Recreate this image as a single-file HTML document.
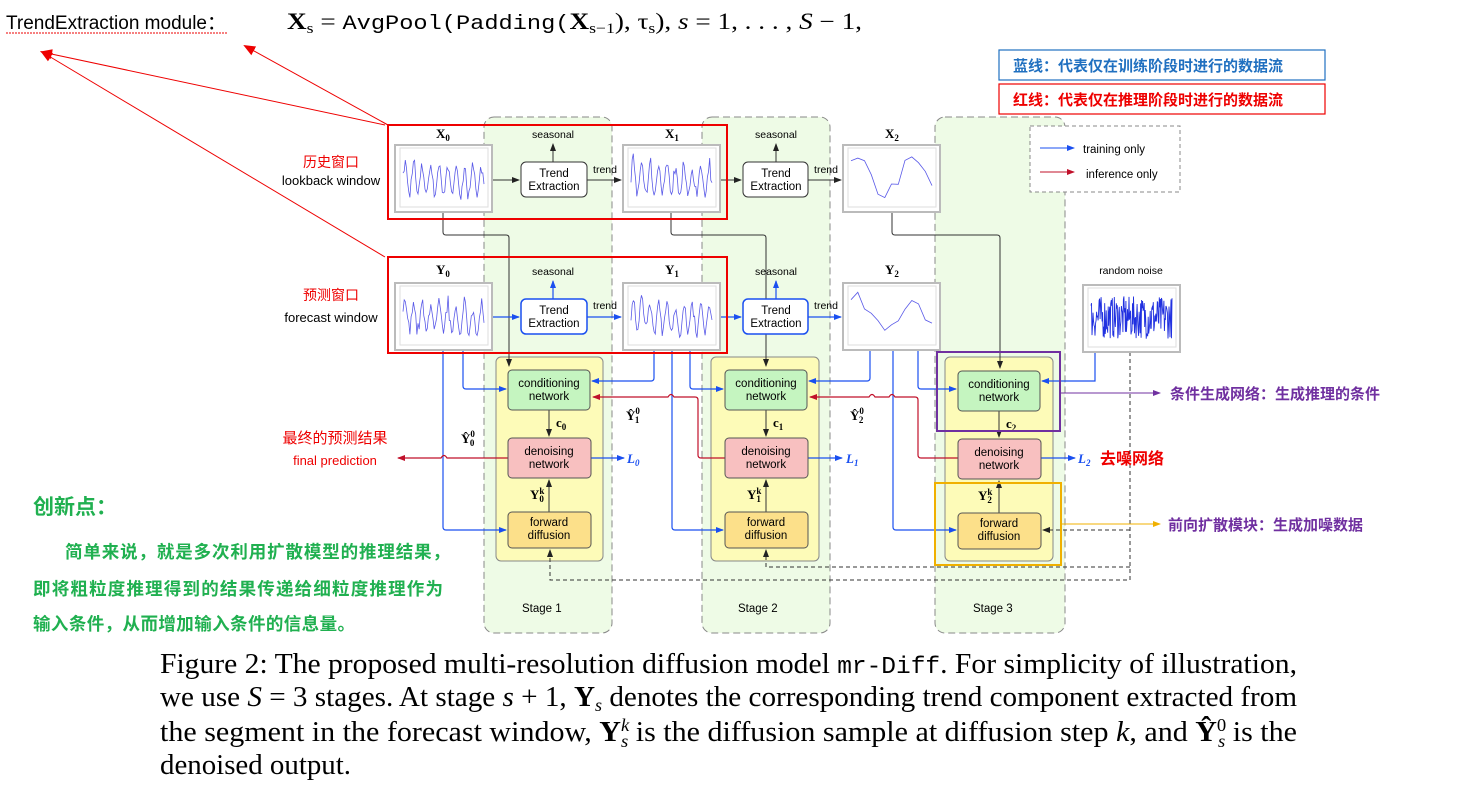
<!DOCTYPE html>
<html><head><meta charset="utf-8"><style>
html,body{margin:0;padding:0;background:#fff;}
svg{display:block;}
.cap{font-family:"Liberation Serif",serif;font-size:29px;fill:#000;}
.s{font-family:"Liberation Sans","DejaVu Sans",sans-serif;font-size:11.5px;fill:#000;}
.m{font-family:"Liberation Serif",serif;font-weight:bold;font-size:13px;}
.cn{font-family:"Liberation Sans","Noto Sans CJK SC",sans-serif;}
</style></head><body>
<svg id="sv" width="1469" height="809" viewBox="0 0 1469 809" xmlns="http://www.w3.org/2000/svg">
<defs>
<marker id="ak" markerWidth="8" markerHeight="8" refX="7" refY="4" orient="auto" markerUnits="userSpaceOnUse"><path d="M0,1 L8,4 L0,7z" fill="#222"/></marker>
<marker id="ab" markerWidth="8" markerHeight="8" refX="7" refY="4" orient="auto" markerUnits="userSpaceOnUse"><path d="M0,1 L8,4 L0,7z" fill="#1a4ff0"/></marker>
<marker id="ar" markerWidth="8" markerHeight="8" refX="7" refY="4" orient="auto" markerUnits="userSpaceOnUse"><path d="M0,1 L8,4 L0,7z" fill="#c0102a"/></marker>
<marker id="ap" markerWidth="8" markerHeight="8" refX="7" refY="4" orient="auto" markerUnits="userSpaceOnUse"><path d="M0,1 L8,4 L0,7z" fill="#7030a0"/></marker>
<marker id="ao" markerWidth="8" markerHeight="8" refX="7" refY="4" orient="auto" markerUnits="userSpaceOnUse"><path d="M0,1 L8,4 L0,7z" fill="#f0b000"/></marker>
<marker id="aR" markerWidth="12" markerHeight="12" refX="10" refY="6" orient="auto" markerUnits="userSpaceOnUse"><path d="M0,1 L12,6 L0,11z" fill="#e00"/></marker>
</defs>

<text x="6" y="29" font-family="Liberation Sans,Noto Sans CJK SC,sans-serif" font-size="19" fill="#000">TrendExtraction module：</text>
<path d="M6,33 L228,33" stroke="#e00" stroke-width="1" stroke-dasharray="2,1"/>
<text x="287" y="29" font-family="Liberation Serif,serif" font-size="23" textLength="575" lengthAdjust="spacingAndGlyphs"><tspan font-weight="bold">X</tspan><tspan font-size="15" dy="4">s</tspan><tspan dy="-4"> = </tspan><tspan font-family="Liberation Mono,monospace" font-size="20">AvgPool(Padding(</tspan><tspan font-weight="bold">X</tspan><tspan font-size="15" dy="4">s−1</tspan><tspan dy="-4">), τ</tspan><tspan font-size="15" dy="4">s</tspan><tspan dy="-4">),  </tspan><tspan font-style="italic">s</tspan><tspan> = 1, . . . , </tspan><tspan font-style="italic">S</tspan><tspan> − 1,</tspan></text>
<line x1="385" y1="125" x2="42" y2="52" stroke="#e00" stroke-width="1" marker-end="url(#aR)"/>
<line x1="385" y1="257" x2="42" y2="52" stroke="#e00" stroke-width="1" marker-end="url(#aR)"/>
<line x1="388" y1="125" x2="245" y2="46" stroke="#e00" stroke-width="1" marker-end="url(#aR)"/>

<rect x="999" y="50" width="326" height="30" fill="#fff" stroke="#2070c0" stroke-width="1.2"/>
<text x="1013" y="71" class="cn" font-size="15" font-weight="bold" fill="#2070c0">蓝线：代表仅在训练阶段时进行的数据流</text>
<rect x="999" y="84" width="326" height="30" fill="#fff" stroke="#e00" stroke-width="1.2"/>
<text x="1013" y="105" class="cn" font-size="15" font-weight="bold" fill="#e00">红线：代表仅在推理阶段时进行的数据流</text>

<g fill="#eefbe6" stroke="#888" stroke-dasharray="7,4" stroke-width="1">
<rect x="484" y="117" width="128" height="516" rx="10"/>
<rect x="702" y="117" width="128" height="516" rx="10"/>
<rect x="935" y="117" width="130" height="516" rx="10"/>
</g>
<text x="522" y="612" class="s" font-size="14">Stage 1</text>
<text x="738" y="612" class="s" font-size="14">Stage 2</text>
<text x="973" y="612" class="s" font-size="14">Stage 3</text>

<rect x="1030" y="126" width="150" height="66" fill="#fff" stroke="#888" stroke-dasharray="4,3"/>
<line x1="1040" y1="148" x2="1074" y2="148" stroke="#1a4ff0" marker-end="url(#ab)"/>
<text x="1083" y="153" class="s" font-size="13">training only</text>
<line x1="1040" y1="172" x2="1074" y2="172" stroke="#c0102a" marker-end="url(#ar)"/>
<text x="1086" y="178" class="s" font-size="13">inference only</text>

<g fill="#fdfbb8" stroke="#888" stroke-width="1">
<rect x="496" y="357" width="107" height="204" rx="5"/>
<rect x="711" y="357" width="108" height="204" rx="5"/>
<rect x="945" y="357" width="108" height="204" rx="5"/>
</g>

<g fill="none" stroke="#333" stroke-width="1">
<path d="M443,212 V232 Q443,235 446,235 H506 Q509,235 509,238 V366" marker-end="url(#ak)"/>
<path d="M671,212 V232 Q671,235 674,235 H763 Q766,235 766,238 V366" marker-end="url(#ak)"/>
<path d="M892,212 V232 Q892,235 895,235 H997 Q1000,235 1000,238 V368" marker-end="url(#ak)"/>
<line x1="492" y1="180" x2="519" y2="180" marker-end="url(#ak)"/>
<line x1="587" y1="180" x2="621" y2="180" marker-end="url(#ak)"/>
<line x1="720" y1="180" x2="741" y2="180" marker-end="url(#ak)"/>
<line x1="808" y1="180" x2="841" y2="180" marker-end="url(#ak)"/>
<line x1="553" y1="162" x2="553" y2="144" marker-end="url(#ak)"/>
<line x1="776" y1="162" x2="776" y2="144" marker-end="url(#ak)"/>
<line x1="549" y1="410" x2="549" y2="436" marker-end="url(#ak)"/>
<line x1="766" y1="410" x2="766" y2="436" marker-end="url(#ak)"/>
<line x1="999" y1="410" x2="999" y2="437" marker-end="url(#ak)"/>
<line x1="549" y1="512" x2="549" y2="480" marker-end="url(#ak)"/>
<line x1="766" y1="512" x2="766" y2="480" marker-end="url(#ak)"/>
<line x1="999" y1="513" x2="999" y2="481" marker-end="url(#ak)"/>
<path d="M1130,352 V580 H550 V550" stroke-dasharray="4,3" marker-end="url(#ak)"/>
<path d="M1130,567 H766 V550" stroke-dasharray="4,3" marker-end="url(#ak)"/>
<path d="M1130,530 H1043" stroke-dasharray="4,3" marker-end="url(#ak)"/>
</g>

<g fill="none" stroke="#1a4ff0" stroke-width="1.2">
<line x1="492" y1="317" x2="519" y2="317" marker-end="url(#ab)"/>
<line x1="587" y1="317" x2="621" y2="317" marker-end="url(#ab)"/>
<line x1="720" y1="317" x2="741" y2="317" marker-end="url(#ab)"/>
<line x1="808" y1="317" x2="841" y2="317" marker-end="url(#ab)"/>
<line x1="553" y1="299" x2="553" y2="281" marker-end="url(#ab)"/>
<line x1="776" y1="299" x2="776" y2="281" marker-end="url(#ab)"/>
<path d="M443,350 V527 Q443,530 446,530 H506" marker-end="url(#ab)"/>
<path d="M463,350 V386 Q463,389 466,389 H506" marker-end="url(#ab)"/>
<path d="M654,350 V378 Q654,381 651,381 H592" marker-end="url(#ab)"/>
<path d="M672,350 V527 Q672,530 675,530 H723" marker-end="url(#ab)"/>
<path d="M690,350 V386 Q690,389 693,389 H723" marker-end="url(#ab)"/>
<path d="M870,350 V378 Q870,381 867,381 H809" marker-end="url(#ab)"/>
<path d="M893,350 V527 Q893,530 896,530 H956" marker-end="url(#ab)"/>
<path d="M918,350 V386 Q918,389 921,389 H956" marker-end="url(#ab)"/>
<path d="M1095,352 V381 H1042" marker-end="url(#ab)"/>
<line x1="591" y1="458" x2="624" y2="458" marker-end="url(#ab)"/>
<line x1="808" y1="458" x2="842" y2="458" marker-end="url(#ab)"/>
<line x1="1041" y1="458" x2="1075" y2="458" marker-end="url(#ab)"/>
</g>

<g fill="none" stroke="#c0102a" stroke-width="1.2">
<path d="M508,458 H447 q-3,-5 -6,0 H398" marker-end="url(#ar)"/>
<path d="M725,458 H701 Q698,458 698,455 V400 Q698,397 695,397 H674 q-3,-5 -6,0 H593" marker-end="url(#ar)"/>
<path d="M958,458 H921 Q918,458 918,455 V400 Q918,397 915,397 H895 q-3,-5 -6,0 H875 q-3,-5 -6,0 H810" marker-end="url(#ar)"/>
</g>

<g stroke="#555" stroke-width="1">
<rect x="508" y="370" width="82" height="40" rx="4" fill="#c5f5c0"/>
<rect x="725" y="370" width="82" height="40" rx="4" fill="#c5f5c0"/>
<rect x="958" y="371" width="82" height="40" rx="4" fill="#c5f5c0"/>
<rect x="508" y="438" width="83" height="40" rx="4" fill="#f8c0c0"/>
<rect x="725" y="438" width="83" height="40" rx="4" fill="#f8c0c0"/>
<rect x="958" y="439" width="83" height="40" rx="4" fill="#f8c0c0"/>
<rect x="508" y="512" width="83" height="36" rx="4" fill="#fce08a"/>
<rect x="725" y="512" width="83" height="36" rx="4" fill="#fce08a"/>
<rect x="958" y="513" width="83" height="36" rx="4" fill="#fce08a"/>
<rect x="521" y="162" width="66" height="35" rx="5" fill="#fff" stroke="#333"/>
<rect x="743" y="162" width="65" height="35" rx="5" fill="#fff" stroke="#333"/>
<rect x="521" y="299" width="66" height="35" rx="5" fill="#fff" stroke="#1a4ff0" stroke-width="1.5"/>
<rect x="743" y="299" width="65" height="35" rx="5" fill="#fff" stroke="#1a4ff0" stroke-width="1.5"/>
</g>
<g class="s" text-anchor="middle">
<text x="554" y="177">Trend</text><text x="554" y="190">Extraction</text>
<text x="776" y="177">Trend</text><text x="776" y="190">Extraction</text>
<text x="554" y="314">Trend</text><text x="554" y="327">Extraction</text>
<text x="776" y="314">Trend</text><text x="776" y="327">Extraction</text>
<text x="549" y="387">conditioning</text><text x="549" y="400">network</text>
<text x="766" y="387">conditioning</text><text x="766" y="400">network</text>
<text x="999" y="388">conditioning</text><text x="999" y="401">network</text>
<text x="549" y="455">denoising</text><text x="549" y="468">network</text>
<text x="766" y="455">denoising</text><text x="766" y="468">network</text>
<text x="999" y="456">denoising</text><text x="999" y="469">network</text>
<text x="549" y="526">forward</text><text x="549" y="539">diffusion</text>
<text x="766" y="526">forward</text><text x="766" y="539">diffusion</text>
<text x="999" y="527">forward</text><text x="999" y="540">diffusion</text>
<text x="553" y="138" font-size="10.5">seasonal</text>
<text x="776" y="138" font-size="10.5">seasonal</text>
<text x="553" y="275" font-size="10.5">seasonal</text>
<text x="776" y="275" font-size="10.5">seasonal</text>
<text x="605" y="173" font-size="10.5">trend</text>
<text x="826" y="173" font-size="10.5">trend</text>
<text x="605" y="309" font-size="10.5">trend</text>
<text x="826" y="309" font-size="10.5">trend</text>
<text x="1131" y="274" font-size="10.5">random noise</text>
</g>

<g class="m">
<text x="436" y="138">X<tspan font-size="9" dy="3">0</tspan></text>
<text x="665" y="138">X<tspan font-size="9" dy="3">1</tspan></text>
<text x="885" y="138">X<tspan font-size="9" dy="3">2</tspan></text>
<text x="436" y="274">Y<tspan font-size="9" dy="3">0</tspan></text>
<text x="665" y="274">Y<tspan font-size="9" dy="3">1</tspan></text>
<text x="885" y="274">Y<tspan font-size="9" dy="3">2</tspan></text>
<text x="556" y="427">c<tspan font-size="9" dy="3">0</tspan></text>
<text x="773" y="427">c<tspan font-size="9" dy="3">1</tspan></text>
<text x="1006" y="428">c<tspan font-size="9" dy="3">2</tspan></text>
<text x="461" y="443">Ŷ<tspan font-size="9" dy="-6">0</tspan><tspan font-size="9" dx="-5" dy="9">0</tspan></text>
<text x="626" y="420">Ŷ<tspan font-size="9" dy="-6">0</tspan><tspan font-size="9" dx="-5" dy="9">1</tspan></text>
<text x="850" y="420">Ŷ<tspan font-size="9" dy="-6">0</tspan><tspan font-size="9" dx="-5" dy="9">2</tspan></text>
<text x="530" y="499">Y<tspan font-size="9" dy="-5">k</tspan><tspan font-size="9" dx="-5" dy="8">0</tspan></text>
<text x="747" y="499">Y<tspan font-size="9" dy="-5">k</tspan><tspan font-size="9" dx="-5" dy="8">1</tspan></text>
<text x="978" y="500">Y<tspan font-size="9" dy="-5">k</tspan><tspan font-size="9" dx="-5" dy="8">2</tspan></text>
<text x="627" y="463" fill="#1a4ff0" font-style="italic">L<tspan font-size="9" dy="3">0</tspan></text>
<text x="846" y="463" fill="#1a4ff0" font-style="italic">L<tspan font-size="9" dy="3">1</tspan></text>
<text x="1078" y="463" fill="#1a4ff0" font-style="italic">L<tspan font-size="9" dy="3">2</tspan></text>
</g>

<g id="charts"></g>

<g fill="none" stroke="#e00" stroke-width="2">
<rect x="388" y="125" width="339" height="94"/>
<rect x="388" y="257" width="339" height="96"/>
</g>
<rect x="937" y="352" width="123" height="79" fill="none" stroke="#7030a0" stroke-width="2"/>
<rect x="935" y="483" width="126" height="82" fill="none" stroke="#f0b000" stroke-width="2"/>
<line x1="1060" y1="393" x2="1160" y2="393" stroke="#7030a0" marker-end="url(#ap)"/>
<line x1="1061" y1="524" x2="1160" y2="524" stroke="#f0b000" marker-end="url(#ao)"/>
<g class="cn" font-weight="bold" font-size="15">
<text x="1170" y="399" fill="#7030a0">条件生成网络：生成推理的条件</text>
<text x="1168" y="530" fill="#7030a0">前向扩散模块：生成加噪数据</text>
<text x="1100" y="464" fill="#e00" font-size="16">去噪网络</text>
</g>

<g class="cn" text-anchor="middle" font-size="13">
<text x="331" y="167" fill="#e00" font-size="14">历史窗口</text>
<text x="331" y="185">lookback window</text>
<text x="331" y="300" fill="#e00" font-size="14">预测窗口</text>
<text x="331" y="322">forecast window</text>
<text x="335" y="443" fill="#e00" font-size="15">最终的预测结果</text>
<text x="335" y="465" fill="#e00">final prediction</text>
</g>
<g class="cn" font-weight="bold" fill="#20b050">
<text x="33" y="514" font-size="21">创新点：</text>
<text x="65" y="558" font-size="17.5" textLength="385" lengthAdjust="spacing">简单来说，就是多次利用扩散模型的推理结果，</text>
<text x="33" y="595" font-size="17.5" textLength="410" lengthAdjust="spacing">即将粗粒度推理得到的结果传递给细粒度推理作为</text>
<text x="33" y="630" font-size="17.5" textLength="322" lengthAdjust="spacing">输入条件，从而增加输入条件的信息量。</text>
</g>

<text x="160" y="673" class="cap" textLength="1137" lengthAdjust="spacingAndGlyphs">Figure 2: The proposed multi-resolution diffusion model <tspan font-family="Liberation Mono,monospace" font-size="24">mr-Diff</tspan>. For simplicity of illustration,</text>
<text x="160" y="706" class="cap" textLength="1137" lengthAdjust="spacingAndGlyphs">we use <tspan font-style="italic">S</tspan> = 3 stages. At stage <tspan font-style="italic">s</tspan> + 1, <tspan font-weight="bold">Y</tspan><tspan font-style="italic" font-size="18" dy="5">s</tspan><tspan dy="-5"> denotes the corresponding trend component extracted from</tspan></text>
<text x="160" y="741" class="cap" textLength="1137" lengthAdjust="spacingAndGlyphs">the segment in the forecast window, <tspan font-weight="bold">Y</tspan><tspan font-style="italic" font-size="18" dy="-10">k</tspan><tspan font-style="italic" font-size="18" dx="-8" dy="16">s</tspan><tspan dy="-6"> is the diffusion sample at diffusion step </tspan><tspan font-style="italic">k</tspan>, and <tspan font-weight="bold">Ŷ</tspan><tspan font-size="18" dy="-10">0</tspan><tspan font-style="italic" font-size="18" dx="-8" dy="16">s</tspan><tspan dy="-6"> is the</tspan></text>
<text x="160" y="774" class="cap" textLength="191" lengthAdjust="spacingAndGlyphs">denoised output.</text>
</svg>
<script>
(function(){
var g=document.getElementById('charts');var ns='http://www.w3.org/2000/svg';
var seed=7;function r(){seed=(seed*16807)%2147483647;return seed/2147483647;}
function chart(x,y,w,h,type){
 var o=document.createElementNS(ns,'rect');o.setAttribute('x',x);o.setAttribute('y',y);o.setAttribute('width',w);o.setAttribute('height',h);o.setAttribute('fill','#fff');o.setAttribute('stroke','#bbb');o.setAttribute('stroke-width','2');g.appendChild(o);
 var i=document.createElementNS(ns,'rect');i.setAttribute('x',x+5);i.setAttribute('y',y+3);i.setAttribute('width',w-9);i.setAttribute('height',h-8);i.setAttribute('fill','#fff');i.setAttribute('stroke','#ddd');g.appendChild(i);
 var n=type=='noise'?160:(type=='smooth'?12:70),pts=[];
 for(var k=0;k<=n;k++){var t=k/n,v;
  if(type=='noise')v=0.5+(r()-0.5)*0.8;
  else if(type=='smooth')v=0.5+0.3*Math.sin(t*9+1)+(r()-0.5)*0.3;
  else v=0.5+0.35*Math.sin(t*60)*(0.5+r()*0.6)+(r()-0.5)*0.2-0.1*t;
  v=Math.max(0.05,Math.min(0.95,v));
  pts.push((x+8+t*(w-16)).toFixed(1)+','+(y+6+(1-v)*(h-14)).toFixed(1));}
 var p=document.createElementNS(ns,'polyline');p.setAttribute('points',pts.join(' '));p.setAttribute('fill','none');p.setAttribute('stroke',type=='noise'?'#2030e0':'#5a5ae8');p.setAttribute('stroke-width',type=='noise'?'0.9':'0.8');g.appendChild(p);
}
chart(395,145,97,67,'w');chart(623,145,97,67,'w');chart(843,145,97,67,'smooth');
chart(395,283,97,67,'w');chart(623,283,97,67,'w');chart(843,283,97,67,'smooth');
chart(1083,285,97,67,'noise');
})();
</script>
</body></html>
